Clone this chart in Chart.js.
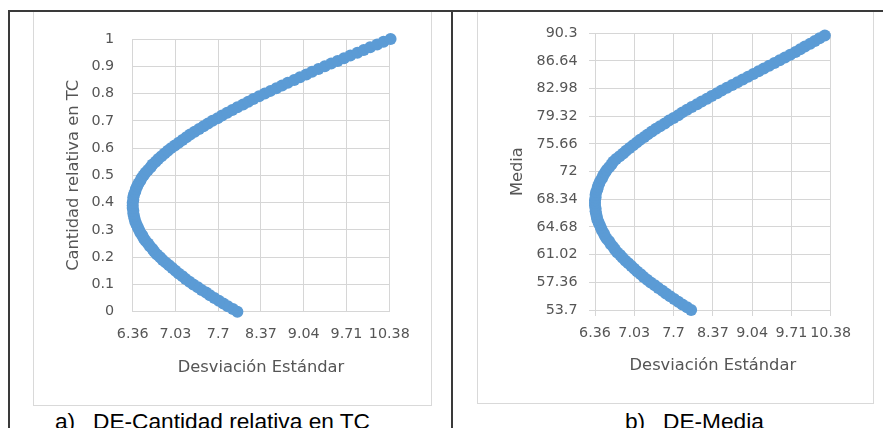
<!DOCTYPE html>
<html><head><meta charset="utf-8">
<script src="https://cdn.jsdelivr.net/npm/chart.js@4"></script>
<style>
html,body{margin:0;padding:0;background:#fff;width:883px;height:428px;overflow:hidden;position:relative}
.abs{position:absolute}
.frame{position:absolute;background:#3a3a3a}
.box{position:absolute;border:1px solid #d9d9d9;box-sizing:border-box;background:#fff}
.cap{position:absolute;font-family:'Liberation Sans',Arial,sans-serif;font-size:22.7px;line-height:22.7px;color:#000;white-space:pre}
canvas{display:block;position:absolute;left:0;top:0}
</style></head><body>
<div class="box" style="left:33px;top:11px;width:399px;height:395px"></div>
<div class="box" style="left:477px;top:11px;width:397px;height:393px"></div>
<div class="abs" style="left:33px;top:12px;width:398px;height:393px"><canvas id="chartA" width="398" height="393"></canvas></div>
<div class="abs" style="left:477px;top:12px;width:396px;height:391px"><canvas id="chartB" width="396" height="391"></canvas></div>
<div class="frame" style="left:8px;top:10px;width:875px;height:2px"></div>
<div class="frame" style="left:8px;top:10px;width:2px;height:418px"></div>
<div class="frame" style="left:451px;top:10px;width:2px;height:418px"></div>
<div class="cap" style="left:55px;top:410px">a)</div>
<div class="cap" style="left:93px;top:410px">DE-Cantidad relativa en TC</div>
<div class="cap" style="left:625px;top:410px">b)</div>
<div class="cap" style="left:663px;top:410px">DE-Media</div>
<script>
// ---- Data ----
const xTickLabels = ['6.36','7.03','7.7','8.37','9.04','9.71','10.38'];
const yTickLabelsA = ['0','0.1','0.2','0.3','0.4','0.5','0.6','0.7','0.8','0.9','1'];
const yTickLabelsB = ['53.7','57.36','61.02','64.68','68.34','72','75.66','79.32','82.98','86.64','90.3'];

// Chart a: Cantidad relativa en TC (y) vs Desviación Estándar (x)
const relQty = [0.00,0.01,0.02,0.03,0.04,0.05,0.06,0.07,0.08,0.09,
 0.10,0.11,0.12,0.13,0.14,0.15,0.16,0.17,0.18,0.19,
 0.20,0.21,0.22,0.23,0.24,0.25,0.26,0.27,0.28,0.29,
 0.30,0.31,0.32,0.33,0.34,0.35,0.36,0.37,0.38,0.39,
 0.40,0.41,0.42,0.43,0.44,0.45,0.46,0.47,0.48,0.49,
 0.50,0.51,0.52,0.53,0.54,0.55,0.56,0.57,0.58,0.59,
 0.60,0.61,0.62,0.63,0.64,0.65,0.66,0.67,0.68,0.69,
 0.70,0.71,0.72,0.73,0.74,0.75,0.76,0.77,0.78,0.79,
 0.80,0.81,0.82,0.83,0.84,0.85,0.86,0.87,0.88,0.89,
 0.90,0.91,0.92,0.93,0.94,0.95,0.96,0.97,0.98,0.99,
 1.00];
const stdDevA = [8.00,7.93,7.85,7.78,7.71,7.64,7.57,7.51,7.44,7.38,
 7.31,7.25,7.19,7.14,7.08,7.03,6.98,6.93,6.88,6.83,
 6.79,6.74,6.70,6.67,6.63,6.60,6.56,6.53,6.51,6.48,
 6.46,6.44,6.42,6.40,6.39,6.38,6.37,6.37,6.36,6.36,
 6.36,6.37,6.37,6.38,6.40,6.41,6.43,6.45,6.48,6.50,
 6.53,6.56,6.60,6.64,6.67,6.72,6.76,6.81,6.86,6.91,
 6.96,7.02,7.08,7.14,7.20,7.26,7.33,7.40,7.47,7.54,
 7.61,7.69,7.76,7.84,7.92,8.00,8.09,8.17,8.25,8.34,
 8.43,8.52,8.61,8.70,8.79,8.89,8.98,9.08,9.17,9.27,
 9.37,9.47,9.57,9.67,9.77,9.88,9.98,10.08,10.19,10.29,
 10.40];

// Chart b: Media (y) vs Desviación Estándar (x)
const media = [53.70,54.06,54.43,54.79,55.15,55.52,55.88,56.24,56.60,56.97,
 57.33,57.69,58.06,58.42,58.78,59.15,59.51,59.87,60.23,60.60,
 60.96,61.32,61.69,62.05,62.41,62.78,63.14,63.50,63.86,64.23,
 64.59,64.95,65.32,65.68,66.04,66.41,66.77,67.13,67.49,67.86,
 68.22,68.58,68.95,69.31,69.67,70.04,70.40,70.76,71.12,71.49,
 71.85,72.21,72.58,72.94,73.30,73.67,74.03,74.39,74.75,75.12,
 75.48,75.84,76.21,76.57,76.93,77.30,77.66,78.02,78.38,78.75,
 79.11,79.47,79.84,80.20,80.56,80.93,81.29,81.65,82.01,82.38,
 82.74,83.10,83.47,83.83,84.19,84.56,84.92,85.28,85.64,86.01,
 86.37,86.73,87.10,87.46,87.82,88.19,88.55,88.91,89.27,89.64,
 90.00];
const stdDevB = [8.00,7.93,7.85,7.78,7.71,7.64,7.57,7.51,7.44,7.38,
 7.31,7.25,7.19,7.14,7.08,7.03,6.98,6.93,6.88,6.83,
 6.79,6.74,6.70,6.67,6.63,6.60,6.56,6.53,6.51,6.48,
 6.46,6.44,6.42,6.40,6.39,6.38,6.37,6.37,6.36,6.36,
 6.36,6.37,6.37,6.38,6.40,6.41,6.43,6.45,6.48,6.50,
 6.53,6.56,6.60,6.64,6.67,6.72,6.78,6.84,6.89,6.95,
 7.01,7.07,7.13,7.20,7.26,7.33,7.40,7.47,7.55,7.62,
 7.70,7.78,7.85,7.93,8.01,8.10,8.18,8.27,8.35,8.44,
 8.52,8.61,8.70,8.79,8.88,8.97,9.06,9.15,9.24,9.33,
 9.42,9.51,9.60,9.69,9.78,9.86,9.94,10.03,10.11,10.19,
 10.28];

// ---- Drawing ----
Chart.defaults.font.family = "'DejaVu Sans', sans-serif";
Chart.defaults.color = '#595959';
const GRID = '#d6d6d6';
const BLUE = '#5B9BD5';
const TXT = '#555555';

function buildChart(id, xs, ys, yLabels, yTitle, L) {
  const pts = xs.map((x, i) => ({x: x, y: ys[i]}));
  const xVals = xTickLabels.map(Number);
  const yVals = yLabels.map(Number);
  return new Chart(document.getElementById(id), {
    type: 'scatter',
    data: { datasets: [{ data: pts, showLine: false, pointRadius: 6, pointHoverRadius: 6,
      backgroundColor: BLUE, borderColor: BLUE, borderWidth: 0, clip: false }] },
    options: {
      responsive: false, animation: false, events: [],
      layout: { padding: { top: L.top, right: L.right, left: 0, bottom: 0 } },
      plugins: { legend: { display: false }, tooltip: { enabled: false } },
      scales: {
        x: {
          type: 'linear', min: xVals[0], max: xVals[xVals.length - 1],
          afterBuildTicks: s => { s.ticks = xVals.map(v => ({ value: v })); },
          afterFit: s => { s.height = L.xh; },
          ticks: { autoSkip: false, maxRotation: 0, minRotation: 0, padding: L.xpad,
            font: { size: 14.3 }, color: TXT,
            callback: (v, i) => xTickLabels[i] },
          grid: { color: GRID, lineWidth: 1, drawTicks: L.ticks, tickLength: L.tl },
          border: { color: GRID, width: 1 },
          title: { display: true, text: 'Desviación Estándar', color: TXT,
            font: { size: 16.3 }, padding: { top: 0, bottom: L.xtpad } }
        },
        y: {
          type: 'linear', min: yVals[0], max: yVals[yVals.length - 1],
          afterBuildTicks: s => { s.ticks = yVals.map(v => ({ value: v })); },
          afterFit: s => { s.width = L.yw; },
          ticks: { autoSkip: false, padding: L.ypad, font: { size: 14.3 }, color: TXT,
            callback: (v, i) => yLabels[i] },
          grid: { color: GRID, lineWidth: 1, drawTicks: L.ticks, tickLength: L.tl },
          border: { color: GRID, width: 1 },
          title: { display: true, text: yTitle, color: TXT,
            font: { size: 16.3 }, padding: { top: L.ytpad, bottom: 0 } }
        }
      }
    }
  });
}

buildChart('chartA', stdDevA, relQty, yTickLabelsA, 'Cantidad relativa en TC',
  { top: 21.3, right: 41.7, xh: 93.3, yw: 99.7, xpad: 14, ypad: 18.5, ticks: false, tl: 0, xtpad: 27.5, ytpad: 31.2 });
buildChart('chartB', stdDevB, media, yTickLabelsB, 'Media',
  { top: 21.3, right: 42.3, xh: 93, yw: 118, xpad: 8.5, ypad: 11.5, ticks: true, tl: 6, xtpad: 27.2, ytpad: 30.7 });
</script>
</body></html>
